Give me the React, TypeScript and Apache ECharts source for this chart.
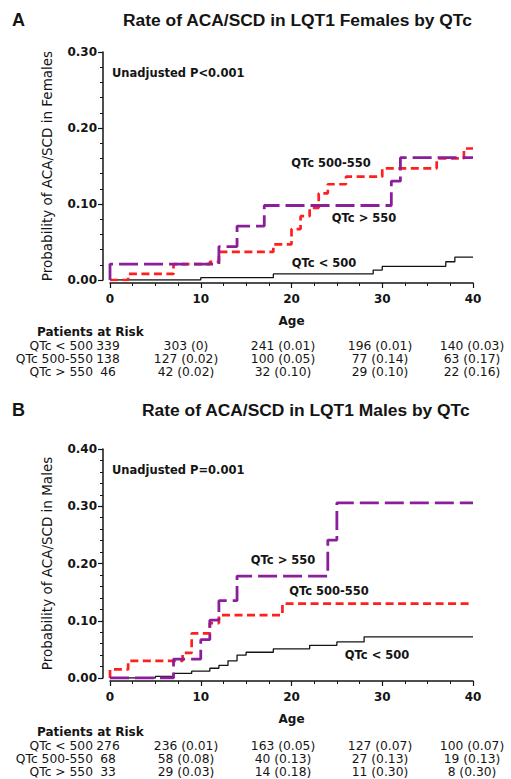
import React, { useEffect, useRef } from "react";
import * as echarts from "echarts";

// ---- Data ----
const femaleLt500: number[][] = [[0, 0], [10, 0.003], [18, 0.008], [29, 0.013], [30, 0.018], [37, 0.024], [38, 0.03], [40, 0.03]];
const female500to550: number[][] = [[0, 0], [2, 0.008], [7, 0.021], [11, 0.024], [12, 0.037], [18, 0.047], [20, 0.067], [21, 0.084], [22, 0.095], [23, 0.114], [24, 0.126], [26, 0.136], [30, 0.147], [36, 0.16], [39, 0.173], [40, 0.173]];
const femaleGt550: number[][] = [[0, 0], [0, 0.021], [12, 0.044], [14, 0.071], [17, 0.098], [31, 0.13], [32, 0.161], [40, 0.161]];

const maleLt500: number[][] = [[0, 0], [5, 0.003], [7, 0.008], [9, 0.012], [11, 0.017], [12, 0.022], [13, 0.03], [14, 0.04], [15, 0.045], [18, 0.051], [22, 0.057], [25, 0.063], [28, 0.072], [40, 0.072]];
const male500to550: number[][] = [[0, 0], [0, 0.015], [2, 0.03], [8, 0.044], [9, 0.078], [11, 0.096], [12, 0.11], [19, 0.13], [40, 0.13]];
const maleGt550: number[][] = [[0, 0], [7, 0.033], [10, 0.067], [11, 0.101], [12, 0.135], [14, 0.178], [24, 0.241], [25, 0.306], [40, 0.306]];

const riskLabels = ["QTc < 500", "QTc 500-550", "QTc > 550"];
const femaleAtRisk = [
  [339, 303, 241, 196, 140],
  [138, 127, 100, 77, 63],
  [46, 42, 32, 29, 22],
];
const femaleRiskProb = [
  ["", "0", "0.01", "0.01", "0.03"],
  ["", "0.02", "0.05", "0.14", "0.17"],
  ["", "0.02", "0.10", "0.10", "0.16"],
];
const maleAtRisk = [
  [276, 236, 163, 127, 100],
  [68, 58, 40, 27, 19],
  [33, 29, 14, 11, 8],
];
const maleRiskProb = [
  ["", "0.01", "0.05", "0.07", "0.07"],
  ["", "0.08", "0.13", "0.13", "0.13"],
  ["", "0.03", "0.18", "0.30", "0.30"],
];

const FONT = '"DejaVu Sans", Verdana, sans-serif';
const TFONT = '"Liberation Sans", Arial, sans-serif';
const INK = "#141414";
const RED = "#ff1f1f";
const PURPLE = "#8b1e9b";

function txt(text: string, x: number, y: number, size: number, weight: string, align: string, family = FONT) {
  return {
    type: "text",
    x,
    y,
    silent: true,
    style: {
      text,
      font: `${weight} ${size}px ${family}`,
      fill: INK,
      textAlign: align,
      textVerticalAlign: "middle",
    },
  };
}

function riskTable(atRisk: number[][], prob: string[][], yHead: number, rowYs: number[]) {
  const colX = [108, 186, 283, 380, 472];
  const els: any[] = [txt("Patients at Risk", 37, yHead, 12, "bold", "left")];
  riskLabels.forEach((lab, r) => {
    els.push(txt(lab, 93, rowYs[r], 12.3, "normal", "right"));
    atRisk[r].forEach((n, c) => {
      const s = c === 0 ? String(n) : `${n} (${prob[r][c]})`;
      els.push(txt(s, colX[c], rowYs[r], 12.3, "normal", "center"));
    });
  });
  return els;
}

function xAxisCfg(grid: number) {
  return {
    gridIndex: grid,
    type: "value",
    min: 0,
    max: 40,
    interval: 10,
    offset: 3,
    axisLine: { show: true, onZero: false, lineStyle: { color: INK, width: 1.5 } },
    axisTick: { show: true, length: 5, lineStyle: { color: INK, width: 1.2 } },
    minorTick: { show: true, splitNumber: 4, length: 3, lineStyle: { color: INK, width: 1 } },
    splitLine: { show: false },
    axisLabel: { fontFamily: FONT, fontWeight: "bold", fontSize: 12, color: INK, margin: 10 },
    name: "Age",
    nameLocation: "middle",
    nameGap: 32,
    nameTextStyle: { fontFamily: FONT, fontWeight: "bold", fontSize: 12, color: INK },
  };
}

function yAxisCfg(grid: number, max: number, name: string) {
  return {
    gridIndex: grid,
    type: "value",
    min: 0,
    max,
    interval: 0.1,
    offset: 7,
    axisLine: { show: true, onZero: false, lineStyle: { color: INK, width: 1.5 } },
    axisTick: { show: true, length: 5, lineStyle: { color: INK, width: 1.2 } },
    minorTick: { show: true, splitNumber: 5, length: 3, lineStyle: { color: INK, width: 1 } },
    splitLine: { show: false },
    axisLabel: {
      fontFamily: FONT,
      fontWeight: "bold",
      fontSize: 12,
      color: INK,
      margin: 6,
      formatter: (v: number) => v.toFixed(2),
    },
    name,
    nameLocation: "middle",
    nameGap: 49,
    nameTextStyle: { fontFamily: FONT, fontSize: 13.5, color: INK },
  };
}

function km(data: number[][], xi: number, kind: "black" | "red" | "purple") {
  const ls =
    kind === "black"
      ? { color: INK, width: 1.3, type: "solid" }
      : kind === "red"
      ? { color: RED, width: 2.7, type: [8, 4.5] }
      : { color: PURPLE, width: 2.8, type: [19, 6] };
  return {
    type: "line",
    xAxisIndex: xi,
    yAxisIndex: xi,
    data,
    step: "end",
    symbol: "none",
    showSymbol: false,
    lineStyle: ls,
    z: kind === "purple" ? 4 : kind === "red" ? 3 : 2,
  };
}

export default function App() {
  const ref = useRef<HTMLDivElement>(null);
  useEffect(() => {
    if (!ref.current) return;
    const chart = echarts.init(ref.current, undefined, { renderer: "svg" });
    const graphics: any[] = [
      txt("A", 12, 20, 18, "bold", "left", TFONT),
      txt("Rate of ACA/SCD in LQT1 Females by QTc", 123, 20, 17.4, "bold", "left", TFONT),
      txt("Unadjusted P<0.001", 112, 73, 11.5, "bold", "left"),
      txt("QTc 500-550", 331, 163, 11.5, "bold", "center"),
      txt("QTc > 550", 364, 218, 11.5, "bold", "center"),
      txt("QTc < 500", 324, 263, 11.5, "bold", "center"),
      ...riskTable(femaleAtRisk, femaleRiskProb, 332, [346, 359, 372]),
      txt("B", 12, 410, 18, "bold", "left", TFONT),
      txt("Rate of ACA/SCD in LQT1 Males by QTc", 142, 410, 17.4, "bold", "left", TFONT),
      txt("Unadjusted P=0.001", 112, 470, 11.5, "bold", "left"),
      txt("QTc > 550", 283, 560, 11.5, "bold", "center"),
      txt("QTc 500-550", 329, 591, 11.5, "bold", "center"),
      txt("QTc < 500", 377, 655, 11.5, "bold", "center"),
      ...riskTable(maleAtRisk, maleRiskProb, 732, [746, 759, 772]),
    ];
    chart.setOption({
      animation: false,
      backgroundColor: "#ffffff",
      grid: [
        { left: 110, top: 52, width: 363, height: 228 },
        { left: 110, top: 449, width: 363, height: 229 },
      ],
      xAxis: [xAxisCfg(0), xAxisCfg(1)],
      yAxis: [
        yAxisCfg(0, 0.3, "Probability of ACA/SCD in Females"),
        yAxisCfg(1, 0.4, "Probability of ACA/SCD in Males"),
      ],
      series: [
        km(femaleLt500, 0, "black"),
        km(female500to550, 0, "red"),
        km(femaleGt550, 0, "purple"),
        km(maleLt500, 1, "black"),
        km(male500to550, 1, "red"),
        km(maleGt550, 1, "purple"),
      ],
      graphic: graphics,
    });
    return () => chart.dispose();
  }, []);
  return (
    <div
      ref={ref}
      style={{ position: "fixed", left: 0, top: 0, width: 511, height: 779, background: "#fff" }}
    />
  );
}
